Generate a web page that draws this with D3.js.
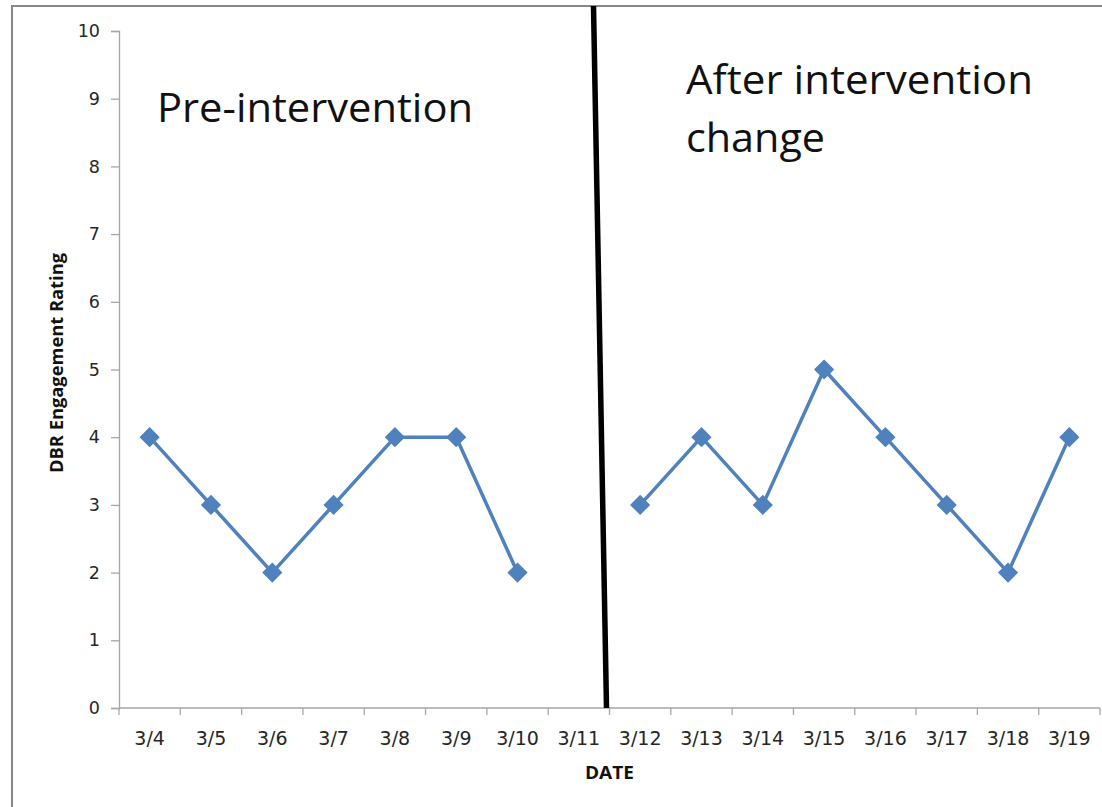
<!DOCTYPE html>
<html>
<head>
<meta charset="utf-8">
<script src="https://cdn.jsdelivr.net/npm/d3@7"></script>
<style>
  html, body { margin: 0; padding: 0; background: #fff; }
  svg { display: block; }
  text { font-family: "Open Sans", "Noto Sans", sans-serif; }
  .tick-label { font-family: "DejaVu Sans", sans-serif; }
</style>
</head>
<body>
<script>
// Daily DBR engagement ratings, split at the intervention change
const dates = ["3/4","3/5","3/6","3/7","3/8","3/9","3/10","3/11","3/12","3/13","3/14","3/15","3/16","3/17","3/18","3/19"];
const preDates = ["3/4","3/5","3/6","3/7","3/8","3/9","3/10"];
const preRatings = [4, 3, 2, 3, 4, 4, 2];
const postDates = ["3/12","3/13","3/14","3/15","3/16","3/17","3/18","3/19"];
const postRatings = [3, 4, 3, 5, 4, 3, 2, 4];
const yTicks = [0,1,2,3,4,5,6,7,8,9,10];
const phaseChangeAfter = "3/11";

const W = 1102, H = 807;
const margin = { left: 119, right: 2, top: 31, bottom: 99 };

const svg = d3.select("body").append("svg").attr("width", W).attr("height", H);

// chart frame
svg.append("rect")
  .attr("x", 12).attr("y", 6).attr("width", W + 20).attr("height", H + 20)
  .attr("fill", "none").attr("stroke", "#878787").attr("stroke-width", 2);

const x = d3.scaleBand().domain(dates).range([margin.left, W - margin.right]);
const y = d3.scaleLinear().domain([0, 10]).range([H - margin.bottom, margin.top]);

// y axis
const yAxis = svg.append("g")
  .attr("transform", `translate(${margin.left},0)`)
  .call(d3.axisLeft(y).tickValues(yTicks).tickSize(8).tickPadding(11).tickFormat(d3.format("d")));
yAxis.attr("font-family", null).attr("font-size", null);
yAxis.select(".domain").attr("stroke", "#a6a6a6").attr("stroke-width", 1.3);
yAxis.selectAll(".tick line").attr("stroke", "#a6a6a6").attr("stroke-width", 1.3);
yAxis.selectAll(".tick text").attr("class", "tick-label").attr("fill", "#262626").style("font-size", "17.5px");

// x axis with ticks on category boundaries
const xAxisG = svg.append("g").attr("transform", `translate(0,${y(0)})`);
xAxisG.append("line")
  .attr("x1", margin.left).attr("x2", W - margin.right)
  .attr("stroke", "#a6a6a6").attr("stroke-width", 1.5);
const boundaries = dates.map(d => x(d)).concat([x(dates[dates.length - 1]) + x.bandwidth()]);
xAxisG.selectAll("line.tk").data(boundaries).join("line")
  .attr("class", "tk")
  .attr("x1", d => d).attr("x2", d => d).attr("y1", 0).attr("y2", 7)
  .attr("stroke", "#a6a6a6").attr("stroke-width", 1.3);
xAxisG.selectAll("text").data(dates).join("text")
  .attr("class", "tick-label")
  .attr("x", d => x(d) + x.bandwidth() / 2)
  .attr("y", 37)
  .attr("text-anchor", "middle")
  .attr("fill", "#262626")
  .style("font-size", "19px")
  .text(d => d);

// axis titles
svg.append("text")
  .attr("x", x(phaseChangeAfter) + x.bandwidth()).attr("y", 779)
  .attr("text-anchor", "middle")
  .style("font-size", "17px").style("font-weight", "bold")
  .attr("fill", "#111")
  .attr("textLength", 49).attr("lengthAdjust", "spacingAndGlyphs")
  .text("DATE");
svg.append("text")
  .attr("transform", `translate(63,363) rotate(-90)`)
  .attr("text-anchor", "middle")
  .style("font-size", "17px").style("font-weight", "bold")
  .attr("fill", "#111")
  .attr("textLength", 220).attr("lengthAdjust", "spacingAndGlyphs")
  .text("DBR Engagement Rating");

// phase change line (slightly slanted, drawn by hand in the original)
const changeX = x(phaseChangeAfter) + x.bandwidth();
svg.append("line")
  .attr("x1", changeX - 16).attr("y1", 6)
  .attr("x2", changeX - 3).attr("y2", y(0))
  .attr("stroke", "#000").attr("stroke-width", 5.5);

// phase labels
svg.append("text")
  .attr("x", 157).attr("y", 122)
  .style("font-size", "40px").attr("fill", "#111")
  .attr("textLength", 316).attr("lengthAdjust", "spacingAndGlyphs")
  .text("Pre-intervention");
svg.append("text")
  .attr("x", 686).attr("y", 94)
  .style("font-size", "40px").attr("fill", "#111")
  .attr("textLength", 347).attr("lengthAdjust", "spacingAndGlyphs")
  .text("After intervention");
svg.append("text")
  .attr("x", 686).attr("y", 152)
  .style("font-size", "40px").attr("fill", "#111")
  .attr("textLength", 139).attr("lengthAdjust", "spacingAndGlyphs")
  .text("change");

// series
const color = "#4f81bd";
const line = d3.line().x(d => x(d[0]) + x.bandwidth() / 2).y(d => y(d[1]));
const diamond = d3.symbol().type(d3.symbolDiamond2).size(260);

[[preDates, preRatings], [postDates, postRatings]].forEach(([ds, vs]) => {
  const pts = ds.map((d, i) => [d, vs[i]]);
  svg.append("path").datum(pts)
    .attr("d", line)
    .attr("fill", "none").attr("stroke", color).attr("stroke-width", 3.5)
    .attr("stroke-linejoin", "round");
  svg.append("g").selectAll("path").data(pts).join("path")
    .attr("d", diamond)
    .attr("transform", d => `translate(${x(d[0]) + x.bandwidth() / 2},${y(d[1])})`)
    .attr("fill", color);
});
</script>
</body>
</html>
